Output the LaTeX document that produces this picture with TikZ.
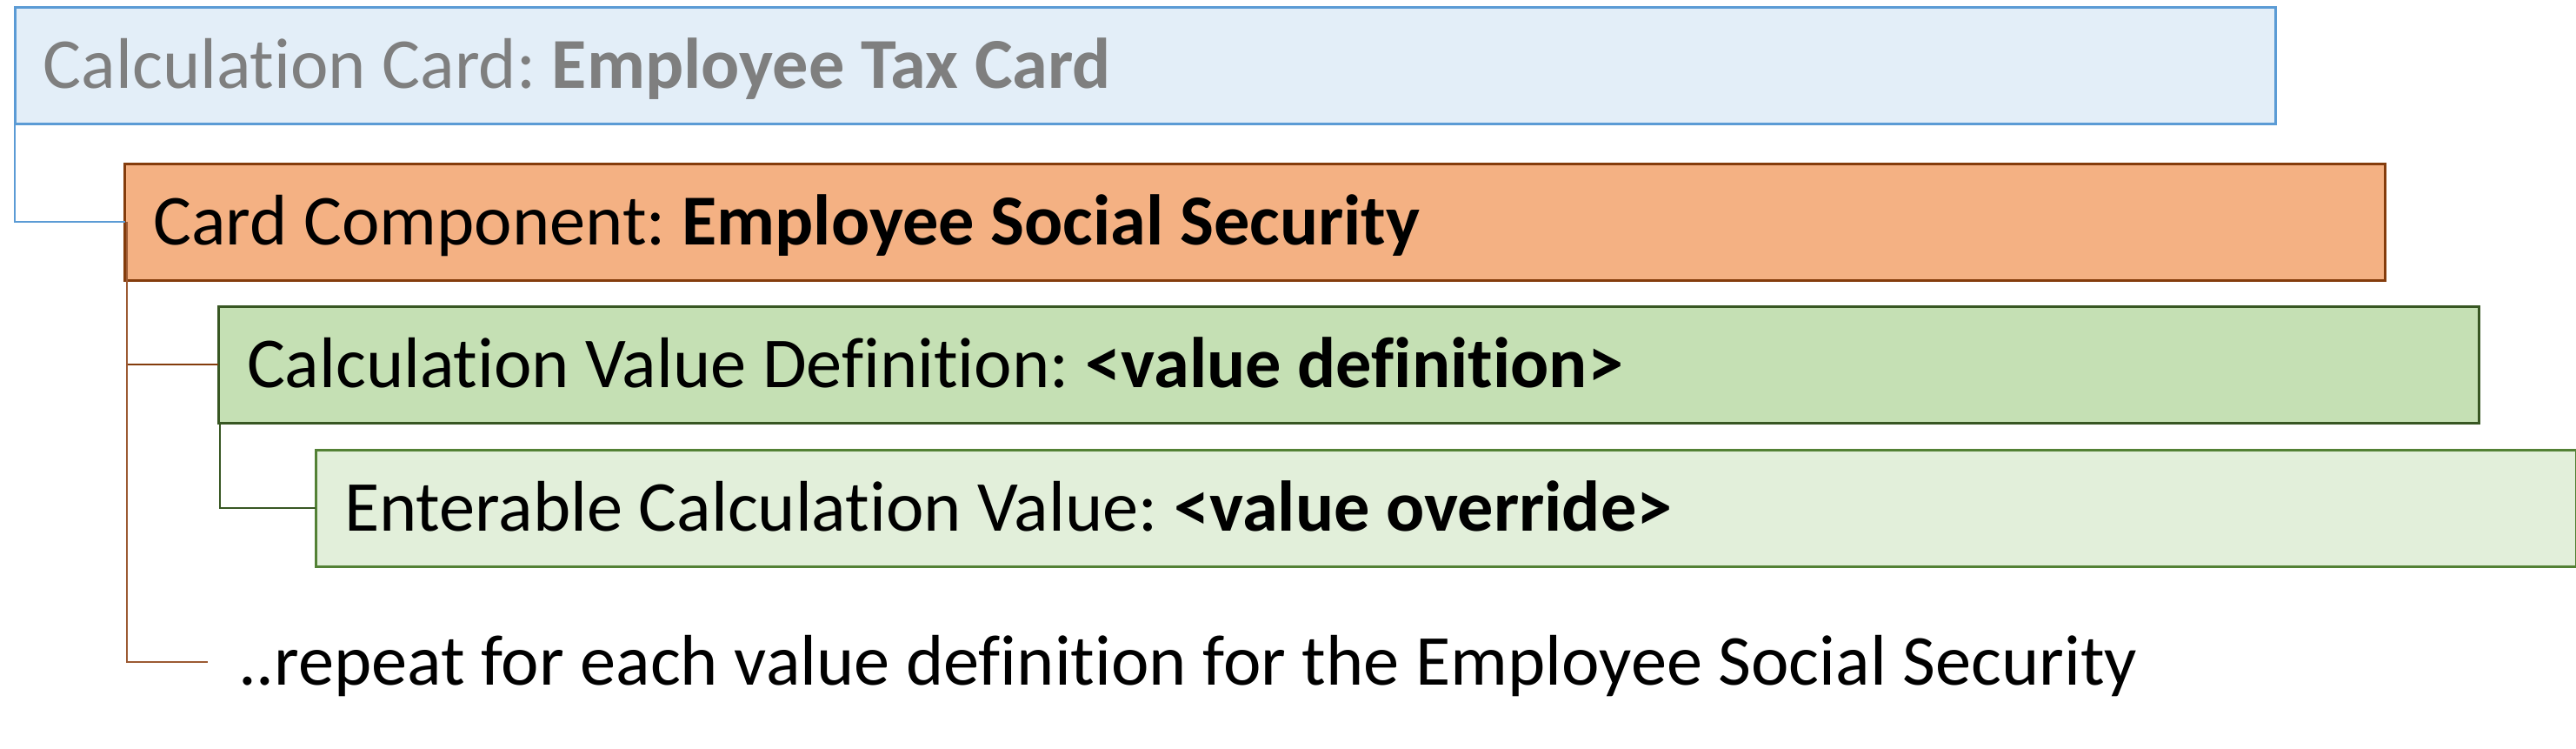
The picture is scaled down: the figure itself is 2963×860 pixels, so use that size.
\documentclass[tikz,border=0pt]{standalone}
\usepackage{fontspec}
\setmainfont{Carlito}[Ligatures=NoCommon]
\usetikzlibrary{calc}
\definecolor{bOneFill}{HTML}{E3EEF8}
\definecolor{bOneLine}{HTML}{5B9BD5}
\definecolor{bTwoFill}{HTML}{F4B183}
\definecolor{bTwoLine}{HTML}{843C0C}
\definecolor{bThreeFill}{HTML}{C5E0B4}
\definecolor{bThreeLine}{HTML}{385723}
\definecolor{bFourFill}{HTML}{E2EFDA}
\definecolor{bFourLine}{HTML}{538135}
\definecolor{grayText}{HTML}{7F7F7F}
\definecolor{brownLight}{HTML}{9C5A33}
\frenchspacing
\begin{document}
\begin{tikzpicture}[x=0.25pt,y=-0.25pt,
  cardbox/.style={rectangle, draw, line width=0.75pt, minimum width=650pt, minimum height=33.5pt, inner sep=0pt, outer sep=0pt, anchor=north west},
  boxtext/.style={inner sep=0pt, outer sep=0pt, anchor=base west, font=\fontsize{20.6pt}{24pt}\selectfont},
  conn/.style={line width=0.5pt}
]
\useasboundingbox[fill=white] (0,0) rectangle (2963,860);

\node[cardbox, draw=bOneLine, fill=bOneFill] (b1) at (17,8) {};
\node[cardbox, draw=bTwoLine, fill=bTwoFill] (b2) at (143.5,188) {};
\node[cardbox, draw=bThreeLine, fill=bThreeFill] (b3) at (251,352) {};
\node[cardbox, draw=bFourLine, fill=bFourFill] (b4) at (363,517) {};

\node[boxtext, text=grayText] (t1) at ($(b1.west)+(33,26.5)$) {Calculation Card: \textbf{Employee Tax Card}};
\node[boxtext] (t2) at ($(b2.west)+(33,26.5)$) {Card Component: \textbf{Employee Social Security}};
\node[boxtext] (t3) at ($(b3.west)+(33,26.5)$) {Calculation Value Definition: \textbf{<value definition>}};
\node[boxtext] (t4) at ($(b4.west)+(33,26.5)$) {Enterable Calculation Value: \textbf{<value override>}};
\node[boxtext] (t5) at (274,787) {..repeat for each value definition for the Employee Social Security};

\coordinate (rep) at (239,761);

\draw[conn, bOneLine] (b1.south west) |- (b2.west);
\draw[conn, bTwoLine] ([xshift=0.6pt]b2.west) |- (b3.west);
\draw[conn, brownLight] ([xshift=0.6pt]b2.west) |- (rep);
\draw[conn, bThreeLine] ([xshift=0.5pt]b3.south west) |- (b4.west);
\end{tikzpicture}
\end{document}
